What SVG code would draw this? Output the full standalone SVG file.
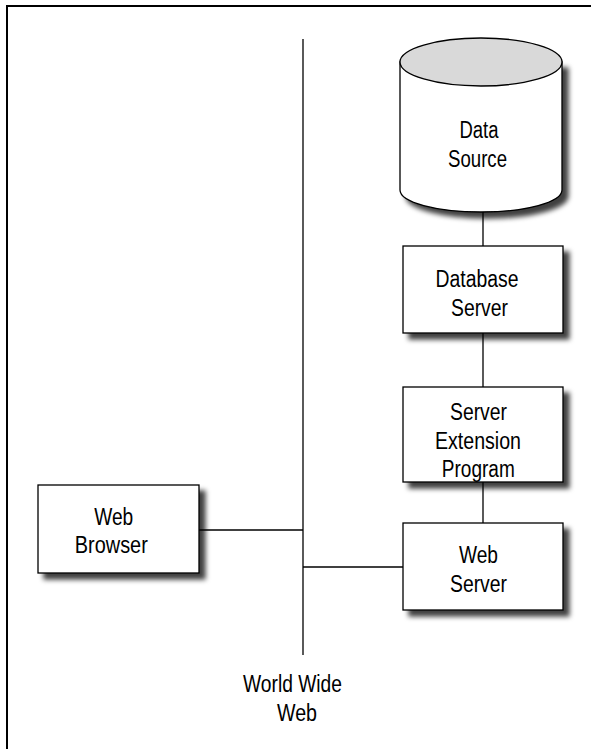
<svg xmlns="http://www.w3.org/2000/svg" width="591" height="749" viewBox="0 0 591 749">
<defs>
<filter id="sh" x="-10%" y="-10%" width="130%" height="130%">
<feDropShadow dx="6" dy="6" stdDeviation="2.5" flood-color="#000" flood-opacity="0.75"/>
</filter>
<style>
.box{fill:#fff;stroke:#000;stroke-width:1.3}
.ln{stroke:#000;stroke-width:1.3;fill:none}
text{font-family:"Liberation Sans",Arial,sans-serif;font-size:23px;fill:#000;text-anchor:middle}
</style>
</defs>
<rect width="591" height="749" fill="#fff"/>
<path d="M7,749 V6 H591" fill="none" stroke="#000" stroke-width="2"/>
<g id="connectors">
<line class="ln" x1="303" y1="39" x2="303" y2="655"/>
<line class="ln" x1="199" y1="530" x2="303" y2="530"/>
<line class="ln" x1="303" y1="567" x2="403" y2="567"/>
<line class="ln" x1="483" y1="212" x2="483" y2="246"/>
<line class="ln" x1="483" y1="333" x2="483" y2="387"/>
<line class="ln" x1="483" y1="482" x2="483" y2="523"/>
</g>
<g id="data-source">
<path class="box" filter="url(#sh)" d="M400,62 L400,190 A81,22 0 0 0 562,190 L562,62 Z"/>
<ellipse cx="481" cy="62" rx="81" ry="24" fill="#d9d9d9" stroke="#000" stroke-width="1.3"/>
<text x="479" y="138" textLength="39" lengthAdjust="spacingAndGlyphs">Data</text>
<text x="477.5" y="167" textLength="59" lengthAdjust="spacingAndGlyphs">Source</text>
</g>
<g id="database-server">
<rect class="box" filter="url(#sh)" x="403" y="246" width="160" height="87"/>
<text x="477" y="287" textLength="83" lengthAdjust="spacingAndGlyphs">Database</text>
<text x="479.5" y="316" textLength="57" lengthAdjust="spacingAndGlyphs">Server</text>
</g>
<g id="server-extension-program">
<rect class="box" filter="url(#sh)" x="403" y="387" width="160" height="95"/>
<text x="478.5" y="420" textLength="57" lengthAdjust="spacingAndGlyphs">Server</text>
<text x="478" y="449" textLength="86" lengthAdjust="spacingAndGlyphs">Extension</text>
<text x="478.3" y="477" textLength="73" lengthAdjust="spacingAndGlyphs">Program</text>
</g>
<g id="web-server">
<rect class="box" filter="url(#sh)" x="403" y="523" width="160" height="87"/>
<text x="478.5" y="563" textLength="39" lengthAdjust="spacingAndGlyphs">Web</text>
<text x="478.5" y="592" textLength="57" lengthAdjust="spacingAndGlyphs">Server</text>
</g>
<g id="web-browser">
<rect class="box" filter="url(#sh)" x="38" y="485" width="161" height="88"/>
<text x="113.7" y="525" textLength="39" lengthAdjust="spacingAndGlyphs">Web</text>
<text x="111.3" y="553" textLength="73" lengthAdjust="spacingAndGlyphs">Browser</text>
</g>
<g id="world-wide-web">
<text x="292.5" y="692" textLength="99" lengthAdjust="spacingAndGlyphs">World Wide</text>
<text x="297" y="721" textLength="40" lengthAdjust="spacingAndGlyphs">Web</text>
</g>
</svg>
